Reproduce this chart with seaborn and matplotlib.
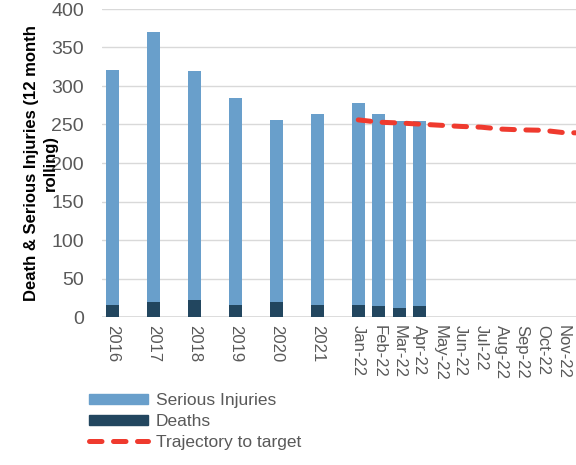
import pandas as pd
import numpy as np
import seaborn as sns
import matplotlib.pyplot as plt
from matplotlib.patches import Patch
from matplotlib.lines import Line2D

# Data
years = ['2016', '2017', '2018', '2019', '2020', '2021']
months = ['Jan-22', 'Feb-22', 'Mar-22', 'Apr-22', 'May-22', 'Jun-22',
          'Jul-22', 'Aug-22', 'Sep-22', 'Oct-22', 'Nov-22', 'Dec-22']
year_total = [321, 370, 320, 284, 256, 263]
year_deaths = [15, 20, 22, 15, 20, 16]
month_total = [278, 264, 255, 255]
month_deaths = [16, 14, 12, 14]
trajectory = [256, 253, 252, 250.5, 249, 247.5, 246.5, 244, 243, 242.5, 239.5, 239]

light = '#699fcb'
dark = '#22465f'
red = '#ef3a2e'
grey = '#595959'

# years take two month-slots each, months one
year_pos = [2 * i for i in range(len(years))]
month_pos = [12 + j for j in range(len(months))]

bars = pd.DataFrame({
    'pos': year_pos + month_pos[:len(month_total)],
    'total': year_total + month_total,
    'deaths': year_deaths + month_deaths,
})
traj = pd.DataFrame({'pos': month_pos, 'value': trajectory})

sns.set_style('white')
plt.rcParams['font.family'] = ['Liberation Sans', 'DejaVu Sans']

fig = plt.figure(figsize=(5.76, 4.65), dpi=100)
ax = fig.add_axes([102 / 576, 1 - 317 / 465, 492 / 576, 308 / 465])

sns.barplot(data=bars, x='pos', y='total', native_scale=True, width=0.63,
            color=light, errorbar=None, linewidth=0, saturation=1, ax=ax)
sns.barplot(data=bars, x='pos', y='deaths', native_scale=True, width=0.63,
            color=dark, errorbar=None, linewidth=0, saturation=1, ax=ax)
sns.lineplot(data=traj, x='pos', y='value', color=red, lw=3.6,
             dashes=False, ax=ax)
line = ax.lines[-1]
line.set_dashes((2.5, 2.3))
line.set_dash_capstyle('round')

ax.set_xlim(-0.5, 23.5)
ax.set_ylim(0, 400)
ax.set_yticks(range(0, 401, 50))
ax.set_xticks(year_pos + month_pos)
ax.set_xticklabels(years + months, rotation=-90)
ax.grid(axis='y', color='#d9d9d9', lw=1)
ax.set_axisbelow(True)
for s in ax.spines.values():
    s.set_visible(False)
ax.axhline(0, color='#d9d9d9', lw=1.2, zorder=0.5)
ax.tick_params(axis='y', length=0, pad=13, labelsize=14, labelcolor=grey)
ax.tick_params(axis='x', length=0, pad=6, labelsize=12, labelcolor=grey)
ax.set_xlabel('')
ax.set_ylabel('Death & Serious Injuries (12 month\nrolling)', fontsize=12,
              fontweight='bold', color='black', linespacing=1.3)
ax.yaxis.set_label_coords(-0.09, 0.5)

handles = [Patch(color=light), Patch(color=dark),
           Line2D([], [], color=red, lw=3.6, dashes=(2.5, 2.3),
                  dash_capstyle='round')]
fig.legend(handles, ['Serious Injuries', 'Deaths', 'Trajectory to target'],
           loc='upper left', bbox_to_anchor=(82 / 576, 1 - 386 / 465),
           frameon=False, fontsize=12.5, labelcolor=grey, handlelength=3.4,
           handleheight=0.55, handletextpad=0.45, labelspacing=0.35,
           borderaxespad=0)

fig.savefig('out.png', dpi=100)
